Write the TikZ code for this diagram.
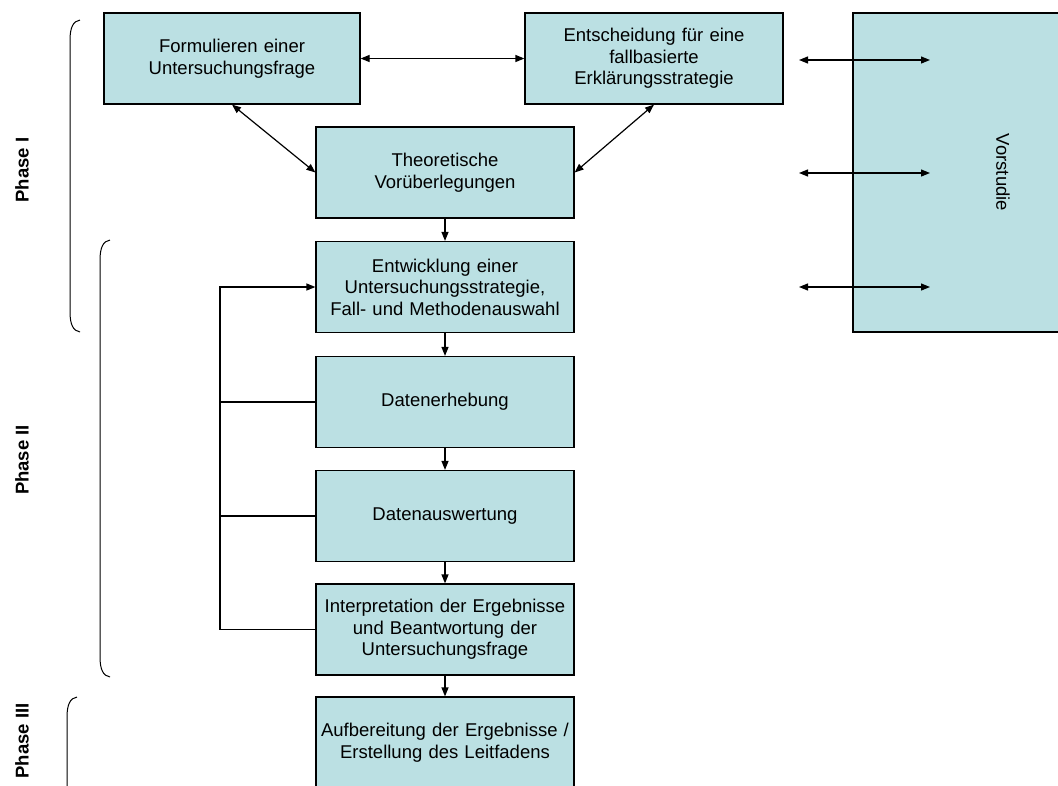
\documentclass[tikz,border=0pt]{standalone}
\usepackage{fontspec}
\setmainfont{Liberation Sans}
\usepackage{xcolor}
\usetikzlibrary{positioning,arrows.meta}

\definecolor{boxblue}{RGB}{187,224,227}

\begin{document}
\begin{tikzpicture}[
    x=1pt, y=-1pt,
    ->,
    >={Triangle[length=9pt,width=7pt]},
    line width=1.2pt,
    font=\fontsize{18.5}{21.5}\selectfont
]

\tikzstyle{stage}=[
    rectangle,
    draw,
    fill=boxblue,
    minimum width=258pt,
    minimum height=91pt,
    inner sep=0pt,
    text width=250pt,
    align=center
]
\tikzstyle{phase}=[
    font=\fontsize{18.5}{21.5}\selectfont\bfseries,
    rotate=90
]
\tikzstyle{brace}=[-, line width=1pt]

\useasboundingbox (0,0) rectangle (1058,785);
\clip (0,0) rectangle (1058,785);

% Phase I
\node[stage, minimum width=256pt] (frage) at (232,58.5) {Formulieren einer\\Untersuchungsfrage};
\node[stage] (entsch) at (654,58.5) {Entscheidung für eine\\fallbasierte\\Erklärungsstrategie};
\node[stage] (theorie) at (445,172.5) {Theoretische\\Vorüberlegungen};

% Phase II
\node[stage] (strategie) at (445,287) {Entwicklung einer\\Untersuchungsstrategie,\\Fall- und Methodenauswahl};
\node[stage] (erhebung) at (445,402) {Datenerhebung};
\node[stage] (auswertung) at (445,516) {Datenauswertung};
\node[stage] (interpret) at (445,629.5) {Interpretation der Ergebnisse\\und Beantwortung der\\Untersuchungsfrage};

% Phase III
\node[stage] (leitfaden) at (445,742.5) {Aufbereitung der Ergebnisse /\\Erstellung des Leitfadens};

\node[stage, minimum width=116pt, minimum height=319pt, text width=300pt] (vorstudie) at (1003,172.5) {};
\node[rotate=-90] (vorlabel) at (vorstudie.center) {Vorstudie};

\draw[<->] (frage) -- (entsch);
\draw[<->] (frage.south) -- (theorie.west);
\draw[<->] (entsch.south) -- (theorie.east);
\draw (theorie) -- (strategie);
\draw (strategie) -- (erhebung);
\draw (erhebung) -- (auswertung);
\draw (auswertung) -- (interpret);
\draw (interpret) -- (leitfaden);

% Rueckkopplung
\coordinate (back) at (220,287);
\draw (interpret.west) -| (back) -- (strategie.west);
\draw[-] (erhebung.west) -- (erhebung.west -| back);
\draw[-] (auswertung.west) -- (auswertung.west -| back);

% Vorstudie
\foreach \y/\n in {60/1,173/2,287/3} {
    \coordinate (vl\n) at (799,\y);
    \coordinate (vr\n) at (930,\y);
    \draw[<->] (vl\n) -- (vr\n);
}

% Klammern
\draw[brace] (80,20) .. controls (73,21) and (70,28) .. (70,40) -- (70,312) .. controls (70,324) and (73,331) .. (80,332);
\draw[brace] (110,240) .. controls (103,241) and (100,248) .. (100,260) -- (100,657) .. controls (100,669) and (103,676) .. (110,677);
\draw[brace] (77,697) .. controls (70,698) and (67,705) .. (67,717) -- (67,800);

\node[phase] (p1) at (22,170) {Phase I};
\node[phase] (p2) at (22,460) {Phase II};
\node[phase] (p3) at (22,741) {Phase III};

\end{tikzpicture}
\end{document}
